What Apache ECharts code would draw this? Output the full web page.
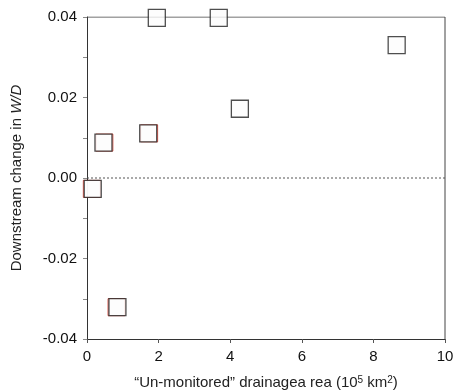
<!DOCTYPE html>
<html>
<head>
<meta charset="utf-8">
<script src="https://cdn.jsdelivr.net/npm/echarts@6/dist/echarts.min.js"></script>
<style>
  html, body { margin: 0; padding: 0; background: #fff; }
  #chart { width: 454px; height: 392px; }
</style>
</head>
<body>
<div id="chart"></div>
<script>
// un-monitored drainage area (10^5 km2) vs downstream change in W/D
const areaX = [0.16, 0.46, 0.85, 1.71, 1.95, 3.68, 4.27, 8.65]
const changeWD = [-0.0027, 0.0088, -0.0321, 0.0111, 0.0398, 0.0398, 0.0172, 0.0330]
// red markers sitting just behind some of the squares
const redX = [0.135, 0.485, 0.825, 1.735]
const redY = [-0.0027, 0.0088, -0.0321, 0.0111]

const chart = echarts.init(document.getElementById('chart'))
const font = 'Liberation Sans, Arial, Helvetica, sans-serif'

chart.setOption({
  animation: false,
  grid: { left: 87, right: 9, top: 17, bottom: 53, outerBoundsMode: 'none' },
  xAxis: {
    type: 'value', min: 0, max: 10, interval: 2,
    axisLine: { show: true, onZero: false, lineStyle: { color: '#333', width: 1 } },
    axisTick: { show: true, length: 4, lineStyle: { color: '#555' } },
    axisLabel: { color: '#111', fontSize: 15, fontFamily: font, margin: 10 },
    splitLine: { show: false },
    name: '“Un-monitored” drainagea rea (10{s|5} km{s|2})',
    nameLocation: 'middle', nameGap: 36,
    nameTextStyle: {
      color: '#222', fontSize: 15, fontFamily: font,
      rich: { s: { fontSize: 10, fontFamily: font, color: '#222', verticalAlign: 'top', padding: [0, 0, 6, 0] } }
    }
  },
  yAxis: {
    type: 'value', min: -0.04, max: 0.04, interval: 0.01,
    axisLine: { show: true, onZero: false, lineStyle: { color: '#333', width: 1 } },
    axisTick: { show: true, length: 4, lineStyle: { color: '#888' } },
    axisLabel: {
      color: '#111', fontSize: 15, fontFamily: font, margin: 10,
      formatter: v => {
        const r = Math.round(v * 100)
        return r % 2 === 0 ? (v < 0 ? '-' : '') + Math.abs(v).toFixed(2) : ''
      }
    },
    splitLine: { show: false },
    name: 'Downstream change in {i|W/D}',
    nameLocation: 'middle', nameGap: 63,
    nameTextStyle: {
      color: '#222', fontSize: 15, fontFamily: font,
      rich: { i: { fontStyle: 'italic', fontSize: 15, fontFamily: font, color: '#222' } }
    }
  },
  series: [
    {
      // frame: top and right border
      type: 'line', data: [[0, 0.04], [10, 0.04], [10, -0.04]],
      symbol: 'none', silent: true,
      lineStyle: { color: '#444', width: 1 }, z: 1
    },
    {
      type: 'line', data: [[0, 0], [10, 0]],
      symbol: 'none', silent: true,
      lineStyle: { color: '#555', width: 1, type: [2, 2] }, z: 1
    },
    {
      type: 'scatter', data: redX.map((x, i) => [x, redY[i]]),
      symbol: 'rect', symbolSize: 17,
      itemStyle: { color: '#fff', borderColor: '#d42a1a', borderWidth: 1 }, z: 2
    },
    {
      type: 'scatter', data: areaX.map((x, i) => [x, changeWD[i]]),
      symbol: 'rect', symbolSize: 17,
      itemStyle: { color: '#fcfcfc', borderColor: '#222', borderWidth: 1.3 }, z: 3
    }
  ]
})
</script>
</body>
</html>
